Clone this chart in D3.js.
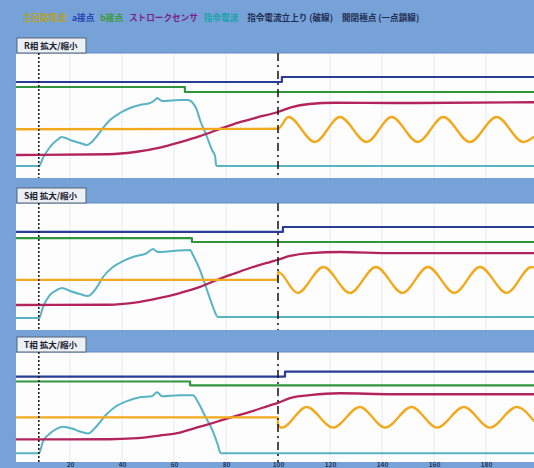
<!DOCTYPE html>
<html lang="ja">
<head>
<meta charset="utf-8">
<title>R/S/T相 拡大/縮小</title>
<script src="https://cdn.jsdelivr.net/npm/d3@7"></script>
<style>
  body { margin: 0; background: #76a2d8; }
  svg { display: block; }
  text { font-family: "Noto Sans CJK JP", "Noto Sans", sans-serif; font-weight: bold; }
</style>
</head>
<body>
<div id="chart"></div>
<script>
// legend entries
const legendNames = ["主回路電流", "a接点", "b接点", "ストロークセンサ", "指令電流", "指令電流立上り (破線)", "開閉極点 (一点鎖線)"]
const legendColors = ["#b3a12a", "#2346b4", "#3c9a34", "#7a1f84", "#1aa3ab", "#1f2d52", "#1f2d52"]
const phaseNames = ["R相 拡大/縮小", "S相 拡大/縮小", "T相 拡大/縮小"]

// time axis (ms)
const tickValues = [20, 40, 60, 80, 100, 120, 140, 160, 180]
const cmdRiseTime = 8      // 指令電流立上り
const poleTime = 100       // 開閉極点

// series: [time ms, level %]
const aContactR = [[-0.8, 76.8], [101.5, 80.8], [198.5, 80.8]]
const aContactS = [[-0.8, 77.2], [101.9, 81.1], [198.5, 81.1]]
const aContactT = [[-0.8, 77.7], [102.7, 82.1], [198.5, 82.1]]

const bContactR = [[-0.8, 72.8], [64.2, 68.8], [198.5, 68.8]]
const bContactS = [[-0.8, 72.4], [66.9, 69.3], [198.5, 69.3]]
const bContactT = [[-0.8, 73.2], [66.2, 69.6], [198.5, 69.6]]

const mainCurrentR = [[-0.8, 39], [100, 39.4], [104, 48.8], [114.2, 28.8], [123.8, 48.8], [134.1, 28.8], [143.7, 48.8],
  [153.8, 28.8], [163.6, 48.8], [173.8, 28.8], [184.1, 48.8], [194.4, 28.8], [198.5, 33]]
const mainCurrentS = [[-0.8, 39.4], [99.9, 39.4], [100, 45.7], [107.5, 29.2], [117.5, 49.6], [127.7, 29.2], [137.7, 49.6],
  [147.9, 29.2], [157.7, 49.6], [167.9, 29.2], [177.7, 49.6], [188, 29.2], [197.5, 49.6], [198.5, 49.3]]
const mainCurrentT = [[-0.8, 40.6], [99.9, 40.6], [100, 34], [101.5, 31.2], [111, 50], [121.2, 31.2], [131.5, 50],
  [141.2, 31.2], [151.4, 50], [161.2, 31.2], [171.5, 50], [181.5, 31.2], [191.8, 50], [198.5, 37]]

const strokeR = [[-0.8, 18.4], [35, 19], [45, 20.8], [55, 24.5], [62, 28.5], [70, 33.5], [78, 39.5], [85, 44.5],
  [92, 48.5], [100, 52.8], [105, 56.5], [112, 59.2], [122, 60.2], [145, 60], [198.5, 60.6]]
const strokeS = [[-0.8, 19.7], [35, 19.9], [44.2, 21.3], [54.6, 25.2], [62.3, 29.1], [70, 33.9], [76.5, 39.4], [82.7, 44.1],
  [89.2, 48.8], [96.9, 53.5], [100, 55.3], [104.6, 58.3], [112.3, 60.6], [123.8, 61.4], [144.2, 60.6], [198.5, 60.6]]
const strokeT = [[-0.8, 20.5], [35, 20.7], [44.2, 21.4], [54.6, 24.1], [62.3, 26.8], [70, 32.1], [76.5, 36.6], [82.7, 41.1],
  [89.2, 45.5], [96.9, 51.5], [100, 53.8], [104.6, 58], [112.3, 60.7], [123.8, 62.5], [144.2, 61.6], [198.5, 61.6]]

const commandR = [[-0.8, 9.6], [8.1, 9.6], [9.6, 16], [12.3, 24.8], [15, 30.4], [16.9, 32.8], [20, 30.4], [23.8, 28],
  [26.5, 26.4], [30.4, 33.6], [32.7, 40], [35.4, 46.4], [39.2, 52], [43.1, 56], [46.9, 58.4], [50.8, 60], [52.7, 62.4],
  [53.5, 64], [55.4, 61.6], [62.3, 62.4], [65.4, 62.4], [66.9, 60.8], [68.8, 54.4], [70, 46.4], [72.7, 32.8],
  [74.6, 22.4], [75.8, 17.6], [76.2, 10.4], [76.5, 9.6], [198.5, 9.6]]
const commandS = [[-0.8, 9.4], [8.1, 9.4], [9.6, 18.1], [12.3, 27.6], [15, 31.5], [16.9, 33.1], [20, 30.7], [23.8, 28.3],
  [26.9, 26.8], [30.4, 33.9], [32.7, 41.7], [36.5, 49.6], [40.4, 54.3], [44.2, 57.5], [49.6, 60.6], [51.9, 63.8],
  [53.8, 61.4], [59.6, 62.2], [66.2, 63], [67.3, 59], [70, 47.2], [72.7, 31.5], [75, 18.1], [76.9, 10.2], [198.5, 10.2]]
const commandT = [[-0.8, 8], [8.1, 8], [9.6, 18.8], [12.3, 25.9], [15, 30.4], [17.3, 32.1], [20.8, 30.4], [23.8, 27.7],
  [26.9, 25.9], [30.4, 33], [33.5, 42], [37.3, 50], [41.9, 55.4], [46.9, 58.9], [51.5, 59.8], [53.5, 63.4], [55.4, 59.8],
  [62.3, 60.7], [67.3, 60.7], [69.2, 54.5], [71.9, 42], [75, 27.7], [76.9, 15.2], [77.7, 8.9], [78, 8], [198.5, 8]]

const lineColors = { main: "#f1a91e", a: "#2a3d96", b: "#2f963e", stroke: "#b3245c", cmd: "#58b3c3" }

const W = 534, H = 468
const panelLeft = 16

// panel layout (white areas)
const phases = [
  { name: phaseNames[0], top: 53, bottom: 178, a: aContactR, b: bContactR, main: mainCurrentR, stroke: strokeR, cmd: commandR },
  { name: phaseNames[1], top: 203, bottom: 330, a: aContactS, b: bContactS, main: mainCurrentS, stroke: strokeS, cmd: commandS },
  { name: phaseNames[2], top: 352, bottom: 462, a: aContactT, b: bContactT, main: mainCurrentT, stroke: strokeT, cmd: commandT }
]

const svg = d3.select("#chart").append("svg")
  .attr("width", W)
  .attr("height", H)

svg.append("rect")
  .attr("width", W).attr("height", H)
  .attr("fill", "#76a2d8")

const x = d3.scaleLinear()
  .domain([0, 200])
  .range([18, 538])

// legend row
let lx = 23
legendNames.forEach((name, i) => {
  const t = svg.append("text")
    .attr("x", lx)
    .attr("y", 21)
    .attr("font-size", 8.6)
    .attr("fill", legendColors[i])
    .text(name)
  lx += t.node().getComputedTextLength() + (i >= 4 ? 9 : 6)
})

phases.forEach(p => {
  const y = d3.scaleLinear()
    .domain([0, 100])
    .range([p.bottom, p.top])

  const g = svg.append("g")

  g.append("rect")
    .attr("x", panelLeft)
    .attr("y", p.top)
    .attr("width", W - panelLeft)
    .attr("height", p.bottom - p.top)
    .attr("fill", "#fdfdfd")

  g.append("line")
    .attr("x1", panelLeft).attr("x2", W)
    .attr("y1", p.top).attr("y2", p.top)
    .attr("stroke", "#5d8cc4")
    .attr("stroke-width", 1)

  // faint grid
  g.selectAll(".grid")
    .data(tickValues)
    .join("line")
      .attr("class", "grid")
      .attr("x1", d => x(d)).attr("x2", d => x(d))
      .attr("y1", p.top + 1).attr("y2", p.bottom)
      .attr("stroke", "#e5e9ef")
      .attr("stroke-width", 1)

  // tab
  g.append("rect")
    .attr("x", panelLeft + 1)
    .attr("y", p.top - 15)
    .attr("width", 69)
    .attr("height", 15)
    .attr("fill", "#eceff4")
    .attr("stroke", "#55657a")
    .attr("stroke-width", 1)
  g.append("text")
    .attr("x", panelLeft + 8)
    .attr("y", p.top - 4)
    .attr("font-size", 8.5)
    .attr("fill", "#1c2433")
    .text(p.name)

  const smooth = d3.line()
    .x(d => x(d[0]))
    .y(d => y(d[1]))
    .curve(d3.curveMonotoneX)

  const step = d3.line()
    .x(d => x(d[0]))
    .y(d => y(d[1]))
    .curve(d3.curveStepAfter)

  const series = [
    { data: p.a, color: lineColors.a, gen: step, w: 2.2 },
    { data: p.b, color: lineColors.b, gen: step, w: 2.2 },
    { data: p.cmd, color: lineColors.cmd, gen: smooth, w: 2 },
    { data: p.stroke, color: lineColors.stroke, gen: smooth, w: 2.3 },
    { data: p.main, color: lineColors.main, gen: smooth, w: 2.3 }
  ]

  series.forEach(s => {
    g.append("path")
      .datum(s.data)
      .attr("fill", "none")
      .attr("stroke", s.color)
      .attr("stroke-width", s.w)
      .attr("stroke-linejoin", "round")
      .attr("d", s.gen)
  })

  // 指令電流立上り (破線)
  g.append("line")
    .attr("x1", x(cmdRiseTime)).attr("x2", x(cmdRiseTime))
    .attr("y1", p.top).attr("y2", p.bottom)
    .attr("stroke", "#151515")
    .attr("stroke-width", 1.5)
    .attr("stroke-dasharray", "2,2")

  // 開閉極点 (一点鎖線)
  g.append("line")
    .attr("x1", x(poleTime)).attr("x2", x(poleTime))
    .attr("y1", p.top).attr("y2", p.bottom)
    .attr("stroke", "#151515")
    .attr("stroke-width", 1.5)
    .attr("stroke-dasharray", "8,4,2,4")
})

// bottom time axis, squeezed into the thin strip under the last panel
const axis = svg.append("g")
  .attr("transform", "translate(0," + 461.5 + ")")
  .call(d3.axisBottom(x).tickValues(tickValues).tickSize(0).tickPadding(0))
axis.select(".domain").remove()
axis.selectAll("text")
  .attr("font-size", 6.5)
  .attr("dy", "0.8em")
  .attr("fill", "#2a3a5a")
</script>
</body>
</html>
